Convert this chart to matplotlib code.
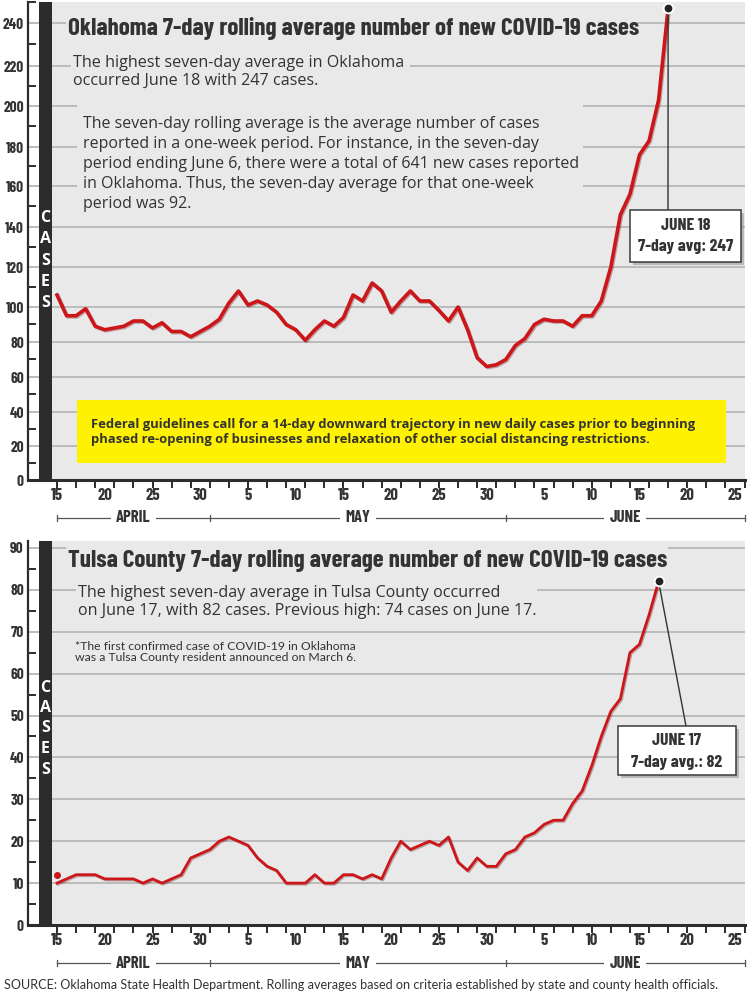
import matplotlib
matplotlib.use('Agg')
import matplotlib.pyplot as plt
import matplotlib.patheffects as pe
from matplotlib.patches import Rectangle
from matplotlib.transforms import blended_transform_factory
import numpy as np

# ---------------- data ----------------
# day 0 = April 15
ok_days = list(range(65))
ok_cases = [106, 95, 95, 99, 89, 87, 88, 89, 92, 92,
            88, 91, 86, 86, 83, 86, 89, 93, 102, 108,
            101, 103, 101, 97, 90, 87, 81, 87, 92, 89,
            94, 106, 103, 112, 108, 97, 103, 108, 103, 103,
            98, 92, 100, 87, 71, 66, 67, 70, 78, 82,
            90, 93, 92, 92, 89, 95, 95, 103, 120, 146,
            156, 176, 183, 203, 247]
ok_peak_day, ok_peak_cases = 64, 247

tulsa_days = list(range(64))
tulsa_cases = [10, 11, 12, 12, 12, 11, 11, 11, 11, 10,
               11, 10, 11, 12, 16, 17, 18, 20, 21, 20,
               19, 16, 14, 13, 10, 10, 10, 12, 10, 10,
               12, 12, 11, 12, 11, 16, 20, 18, 19, 20,
               19, 21, 15, 13, 16, 14, 14, 17, 18, 21,
               22, 24, 25, 25, 29, 32, 38, 45, 51, 54,
               65, 67, 74, 82]
tulsa_first_day, tulsa_first_cases = 0, 12
tulsa_peak_day, tulsa_peak_cases = 63, 82

x_tick_days = list(range(0, 73, 2))
x_label_days = [0, 5, 10, 15, 20, 25, 30, 35, 40, 45, 51, 56, 61, 66, 71]
x_labels = ['15', '20', '25', '30', '5', '10', '15', '20', '25', '30',
            '5', '10', '15', '20', '25']
month_names = ['APRIL', 'MAY', 'JUNE']
month_starts = [0, 16, 47, 72]

ok_yticks = list(range(0, 241, 20))
ok_yminor = list(range(10, 251, 20))
tulsa_yticks = list(range(0, 91, 10))
tulsa_yminor = list(range(5, 90, 10))

ok_title = 'Oklahoma 7-day rolling average number of new COVID-19 cases'
ok_sub = 'The highest seven-day average in Oklahoma\noccurred June 18 with 247 cases.'
ok_para = ('The seven-day rolling average is the average number of cases\n'
           'reported in a one-week period. For instance, in the seven-day\n'
           'period ending June 6, there were a total of 641 new cases reported\n'
           'in Oklahoma. Thus, the seven-day average for that one-week\n'
           'period was 92.')
ok_note = ('Federal guidelines call for a 14-day downward trajectory in new daily cases prior to beginning\n'
           'phased re-opening of businesses and relaxation of other social distancing restrictions.')
ok_call = ['JUNE 18', '7-day avg: 247']

tulsa_title = 'Tulsa County 7-day rolling average number of new COVID-19 cases'
tulsa_sub = ('The highest seven-day average in Tulsa County occurred\n'
             'on June 17, with 82 cases. Previous high: 74 cases on June 17.')
tulsa_foot = ('*The first confirmed case of COVID-19 in Oklahoma\n'
              'was a Tulsa County resident announced on March 6.')
tulsa_call = ['JUNE 17', '7-day avg.: 82']
source = ('SOURCE: Oklahoma State Health Department. Rolling averages based on '
          'criteria established by state and county health officials.')

# ---------------- style ----------------
COND = ['Barlow Condensed', 'DejaVu Sans']
SANS = ['Open Sans', 'DejaVu Sans']
GEO = ['Lato', 'DejaVu Sans']
BG = '#e9e9e9'
GRID = '#b8b8b8'
DARK = '#2c2c2c'
TEXT = '#333333'
RED = '#cc1619'

W, H = 750, 997
fig = plt.figure(figsize=(7.5, 9.97), dpi=100)
fig.patch.set_facecolor('white')


def fx(x):
    return x / W


def fy(y):
    return 1 - y / H


ax1 = fig.add_axes([fx(28), fy(480), (745 - 28) / W, (480 - 2) / H])
ax2 = fig.add_axes([fx(28), fy(925), (745 - 28) / W, (925 - 541) / H])

# piecewise scale of the Oklahoma axis (as drawn in the graphic)
ok_tick_px = [480, 446, 412, 377, 342, 307, 267, 227, 186, 147, 106, 66, 23]
_vals = np.array([-100.0] + ok_yticks + [400.0])
_px = np.array([480 + 170.0] + ok_tick_px + [23 - 160 * 2.1])


def _fwd(v):
    return np.interp(np.asarray(v, dtype=float), _vals, -_px)


def _inv(p):
    return np.interp(np.asarray(p, dtype=float), -_px, _vals)


ax1.set_yscale('function', functions=(_fwd, _inv))
ax1.set_ylim(0, 250)
ax2.set_ylim(0, 91.65)


def setup(ax, yticks, yminor):
    ax.set_facecolor('white')
    ax.add_patch(Rectangle((24 / 717, 0), 1 - 24 / 717, 1, transform=ax.transAxes,
                           fc=BG, ec='none', zorder=0))
    for v in yticks[1:]:
        ax.axhline(v, color=GRID, lw=1.3, zorder=1)
    ax.add_patch(Rectangle((11 / 717, 0), 13 / 717, 1, transform=ax.transAxes,
                           fc=DARK, ec='none', zorder=2))
    for s in ['top', 'right']:
        ax.spines[s].set_visible(False)
    ax.spines['left'].set_color(DARK)
    ax.spines['left'].set_linewidth(1.6)
    ax.spines['bottom'].set_color(DARK)
    ax.spines['bottom'].set_linewidth(2.2)
    ax.set_yticks(yticks)
    ax.set_yticklabels([str(v) for v in yticks], family=COND, weight='bold',
                       size=11, color=TEXT)
    ax.set_yticks(yminor, minor=True)
    ax.set_yticklabels([], minor=True)
    ax.tick_params(axis='y', which='major', length=0, pad=3)
    ax.tick_params(axis='y', which='minor', direction='in', length=6, width=1.4, color=DARK)
    ax.xaxis.remove_overlapping_locs = False
    ax.set_xticks(x_tick_days)
    ax.set_xticklabels([])
    ax.set_xticks(x_label_days, minor=True)
    ax.set_xticklabels(x_labels, minor=True, family=COND, weight='bold', size=12,
                       color=TEXT)
    ax.tick_params(axis='x', which='major', direction='out', length=6, width=1.4, color=DARK)
    ax.tick_params(axis='x', which='minor', length=0, pad=6)


def months(ax, y_px):
    tr = blended_transform_factory(ax.transData, fig.transFigure)
    y = fy(y_px)
    ax.plot([month_starts[0], month_starts[-1]], [y, y], transform=tr,
            color='#555555', lw=0.9, clip_on=False)
    for d in month_starts:
        ax.plot([d, d], [y - 3 / H, y + 3 / H], transform=tr, color='#555555',
                lw=0.9, clip_on=False)
    for i, name in enumerate(month_names):
        mid = (month_starts[i] + month_starts[i + 1]) / 2
        ax.text(mid, y, name, transform=tr, ha='center', va='center', family=COND,
                weight='bold', size=12, color=TEXT, clip_on=False,
                bbox=dict(fc='white', ec='none', pad=4))


def mask(ax, box):
    x0, y0, x1, y1 = box
    ax.add_patch(Rectangle((fx(x0), fy(y1)), (x1 - x0) / W, (y1 - y0) / H,
                           transform=fig.transFigure, fc=BG, ec='none', zorder=1.5))


def ftext(ax, x, y, s, **kw):
    ax.text(fx(x), fy(y), s, transform=fig.transFigure, zorder=10, **kw)


def cases_label(ax, ys):
    for ch, yy in zip('CASES', ys):
        ftext(ax, 45.5, yy, ch, ha='center', va='center', family=SANS,
              weight='bold', size=11.5, color='white')


def callout(ax, peak, box, texts, text_ys, anchor):
    x0, y0, x1, y1 = box
    ax.add_patch(Rectangle((fx(x0 + 3), fy(y1 + 3)), (x1 - x0) / W, (y1 - y0) / H,
                           transform=fig.transFigure, fc='#888888', ec='none',
                           alpha=0.5, zorder=8, clip_on=False))
    ax.add_patch(Rectangle((fx(x0), fy(y1)), (x1 - x0) / W, (y1 - y0) / H,
                           transform=fig.transFigure, fc='white', ec='#3a3a3a',
                           lw=1.1, zorder=9, clip_on=False))
    ax.annotate('', xy=peak, xycoords='data',
                xytext=(fx(anchor[0]), fy(anchor[1])), textcoords='figure fraction',
                arrowprops=dict(arrowstyle='-', color='#333333', lw=1.0,
                                shrinkA=0, shrinkB=3), zorder=7)
    for t, yy in zip(texts, text_ys):
        ftext(ax, (x0 + x1) / 2, yy, t, ha='center', va='center', family=COND,
              weight='bold', size=12.8, color=TEXT)


shadow = [pe.SimpleLineShadow(offset=(0.8, -0.8), shadow_color='#550000', alpha=0.3),
          pe.Normal()]

# ---------------- Oklahoma ----------------
setup(ax1, ok_yticks, ok_yminor)
mask(ax1, (66, 14, 637, 42))
mask(ax1, (71, 55, 410, 92))
mask(ax1, (77, 98, 583, 216))
ax1.add_patch(Rectangle((fx(77), fy(463)), (726 - 77) / W, (463 - 400) / H,
                        transform=fig.transFigure, fc='#fff200', ec='none', zorder=3))
ax1.plot(ok_days, ok_cases, color=RED, lw=2.6, zorder=5, solid_joinstyle='round',
         path_effects=shadow)
ax1.plot([ok_peak_day], [ok_peak_cases], 'o', ms=7, mfc='#222222', mec='white',
         mew=1.4, zorder=11)
ftext(ax1, 68, 29, ok_title, ha='left', va='center', family=COND, weight='bold',
      size=18, color=TEXT)
ftext(ax1, 73, 72, ok_sub, ha='left', va='center', family=SANS, size=11.6,
      color=TEXT, linespacing=1.2)
ftext(ax1, 83, 164, ok_para, ha='left', va='center', family=SANS, size=11.5,
      color=TEXT, linespacing=1.33)
ftext(ax1, 91, 432, ok_note, ha='left', va='center', family=SANS, weight='bold',
      size=9.4, color=TEXT, linespacing=1.2)
cases_label(ax1, [218, 239, 261, 282, 303])
callout(ax1, (ok_peak_day, ok_peak_cases), (630, 210, 741, 262), ok_call,
        [225, 247], (668, 210))
months(ax1, 518)

# ---------------- Tulsa ----------------
setup(ax2, tulsa_yticks, tulsa_yminor)
mask(ax2, (66, 545, 668, 575))
mask(ax2, (76, 583, 537, 624))
ax2.plot(tulsa_days, tulsa_cases, color=RED, lw=2.0, zorder=5, solid_joinstyle='round',
         path_effects=shadow)
ax2.plot([tulsa_first_day], [tulsa_first_cases], 'o', ms=4, color=RED, zorder=6)
ax2.plot([tulsa_peak_day], [tulsa_peak_cases], 'o', ms=7, mfc='#222222', mec='white',
         mew=1.4, zorder=11)
ftext(ax2, 68, 560, tulsa_title, ha='left', va='center', family=COND, weight='bold',
      size=18, color=TEXT)
ftext(ax2, 78, 602, tulsa_sub, ha='left', va='center', family=SANS, size=11.6,
      color=TEXT, linespacing=1.2)
ftext(ax2, 75, 652, tulsa_foot, ha='left', va='center', family=GEO, size=8.8,
      color=TEXT, linespacing=1.1)
cases_label(ax2, [688, 708, 728, 749, 770])
callout(ax2, (tulsa_peak_day, tulsa_peak_cases), (618, 726, 736, 775), tulsa_call,
        [740, 762], (686, 726))
months(ax2, 963)

for ax in (ax1, ax2):
    ax.set_xlim(-3.04, 72.05)
ax1.set_ylim(0, 250)
ax2.set_ylim(0, 91.65)

fig.text(fx(4), fy(985), source, ha='left', va='center', family=GEO, size=9.05,
         color=TEXT)

fig.savefig('out.png', dpi=100, facecolor='white')
